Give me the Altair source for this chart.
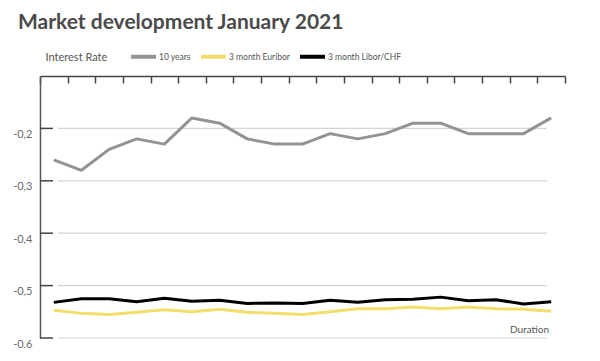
import altair as alt
import pandas as pd

day = list(range(19))
ten_years = [-0.26, -0.28, -0.24, -0.22, -0.23, -0.18, -0.19, -0.22, -0.23, -0.23,
             -0.21, -0.22, -0.21, -0.19, -0.19, -0.21, -0.21, -0.21, -0.18]
euribor = [-0.547, -0.553, -0.555, -0.551, -0.546, -0.550, -0.545, -0.551, -0.553, -0.555,
           -0.550, -0.544, -0.544, -0.541, -0.544, -0.541, -0.544, -0.545, -0.549]
libor = [-0.532, -0.525, -0.525, -0.531, -0.524, -0.530, -0.528, -0.534, -0.533, -0.534,
         -0.528, -0.532, -0.527, -0.526, -0.522, -0.529, -0.527, -0.535, -0.531]
series_names = ["10 years", "3 month Euribor", "3 month Libor/CHF"]
series_colors = ["#939393", "#f3de6c", "#000000"]
y_ticks = [-0.6, -0.5, -0.4, -0.3, -0.2]
x_ticks = [d - 0.5 for d in day] + [day[-1] + 0.5]

rows = []
for name, vals in zip(series_names, [ten_years, euribor, libor]):
    for d, v in zip(day, vals):
        rows.append({"day": d, "rate": v, "series": name})
df = pd.DataFrame(rows)
ticks_df = pd.DataFrame({"v": y_ticks})

W, H = 525, 262
FONT = "Lato"

xscale = alt.Scale(domain=[-0.5, 18.5], nice=False, zero=False)
yscale = alt.Scale(domain=[-0.6, -0.1], nice=False, zero=False)

lines = alt.Chart(df).mark_line(strokeWidth=3, strokeJoin="round").encode(
    x=alt.X("day:Q", scale=xscale,
            axis=alt.Axis(orient="bottom", offset=-H, values=x_ticks, labels=False,
                          title=None, grid=False, tickSize=7, tickColor="#444444",
                          domainColor="#444444", tickWidth=1.5, domainWidth=1.5)),
    y=alt.Y("rate:Q", scale=yscale,
            axis=alt.Axis(values=y_ticks, ticks=False, grid=False,
                          labelExpr="'-' + replace(format(abs(datum.value), '.1f'), '.', ',')",
                          labelOffset=6, labelPadding=8, labelFontSize=11,
                          labelColor="#6b6b6b", labelFont=FONT,
                          domainColor="#555555", domainWidth=1.5,
                          title="Interest Rate", titleAngle=0, titleAlign="left",
                          titleBaseline="middle", titleX=5, titleY=-19,
                          titleFontSize=11, titleFontWeight="normal",
                          titleColor="#555555", titleFont=FONT)),
    color=alt.Color("series:N", scale=alt.Scale(domain=series_names, range=series_colors),
                    legend=alt.Legend(orient="none", legendX=89, legendY=-34,
                                      direction="horizontal", title=None,
                                      symbolType="stroke", symbolSize=625,
                                      symbolStrokeWidth=4, labelFontSize=8.5,
                                      labelFont=FONT, labelColor="#555555",
                                      labelOffset=1, columnPadding=2)),
    order=alt.Order("series:N"),
)

grid = alt.Chart(ticks_df).mark_rule(color="#d4d4d4", strokeWidth=1.2).encode(
    y=alt.Y("v:Q", scale=yscale), x=alt.value(18), x2=alt.value(507))

yt = alt.Chart(ticks_df).mark_rule(color="#444444", strokeWidth=1.5).encode(
    y=alt.Y("v:Q", scale=yscale), x=alt.value(0), x2=alt.value(13))

dur = alt.Chart(pd.DataFrame({"t": ["Duration"]})).mark_text(
    align="right", baseline="bottom", fontSize=10, font=FONT, color="#555555").encode(
    text="t:N", x=alt.value(509), y=alt.value(259))

chart = alt.layer(grid, yt, lines, dur).properties(
    width=W, height=H,
    title=alt.TitleParams("Market development January 2021", anchor="start",
                          frame="group", fontSize=21, fontWeight="bold",
                          font=FONT, color="#4a4a4a", dx=-22, offset=9),
    padding={"left": 32, "top": 68, "right": 10, "bottom": 10},
    autosize="none",
).configure_view(stroke=None)

chart.save("out.html", embed_options={"renderer": "svg", "actions": False})
